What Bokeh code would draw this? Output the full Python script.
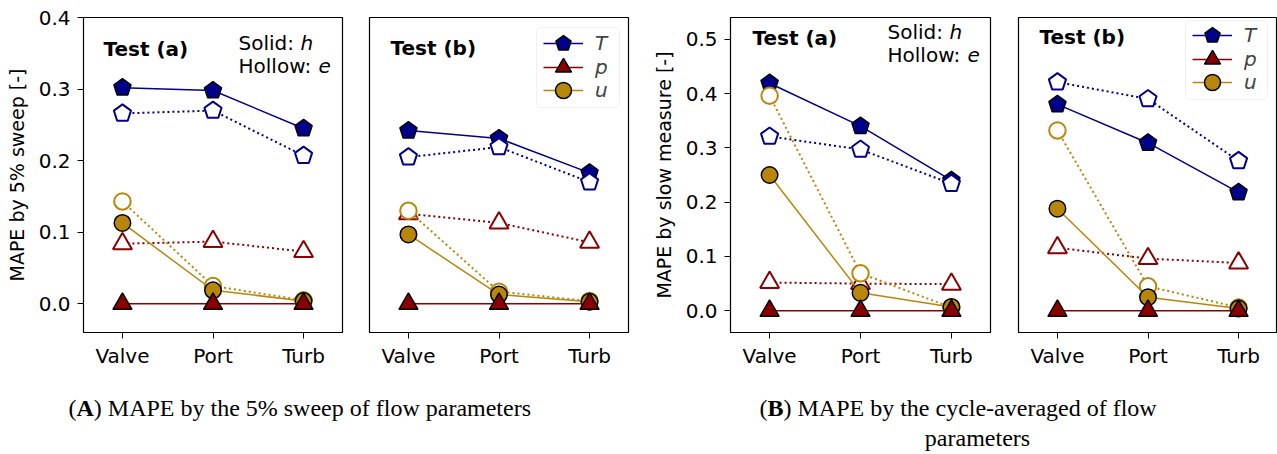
from bokeh.plotting import figure
from bokeh.models import (Range1d, FixedTicker, Label, Legend, LegendItem,
                          PrintfTickFormatter, BoxAnnotation)
from bokeh.layouts import row, column
from bokeh.embed import file_html
from bokeh.resources import INLINE
from bokeh.core.properties import value

categories = ["Valve", "Port", "Turb"]
variables = ["T", "p", "u"]

# (A) MAPE by 5% sweep -- Test (a)
A_a_T_h = [0.302, 0.298, 0.245]
A_a_T_e = [0.266, 0.270, 0.207]
A_a_p_h = [0.0, 0.0, 0.0]
A_a_p_e = [0.084, 0.087, 0.073]
A_a_u_h = [0.113, 0.019, 0.004]
A_a_u_e = [0.143, 0.025, 0.005]
# (A) Test (b)
A_b_T_h = [0.242, 0.231, 0.183]
A_b_T_e = [0.205, 0.219, 0.170]
A_b_p_h = [0.0, 0.0, 0.0]
A_b_p_e = [0.126, 0.113, 0.086]
A_b_u_h = [0.097, 0.013, 0.003]
A_b_u_e = [0.130, 0.017, 0.004]
# (B) MAPE by slow measure -- Test (a)
B_a_T_h = [0.419, 0.340, 0.240]
B_a_T_e = [0.321, 0.297, 0.234]
B_a_p_h = [0.0, 0.0, 0.0]
B_a_p_e = [0.052, 0.050, 0.049]
B_a_u_h = [0.250, 0.033, 0.007]
B_a_u_e = [0.396, 0.069, 0.006]
# (B) Test (b)
B_b_T_h = [0.380, 0.309, 0.218]
B_b_T_e = [0.421, 0.390, 0.276]
B_b_p_h = [0.0, 0.0, 0.0]
B_b_p_e = [0.116, 0.096, 0.088]
B_b_u_h = [0.188, 0.025, 0.004]
B_b_u_e = [0.332, 0.045, 0.006]

A_yticks = [0.0, 0.1, 0.2, 0.3, 0.4]
B_yticks = [0.0, 0.1, 0.2, 0.3, 0.4, 0.5]

COL = {"T": "#00008B", "p": "#8B0000", "u": "#B8860B"}
FONT = "DejaVu Sans"
SERIF = "Liberation Serif"
xs = list(range(len(categories)))
DRAW_ORDER = [("T", "h"), ("T", "e"), ("p", "e"), ("u", "e"), ("u", "h"), ("p", "h")]


def draw_marker(p, var, y, solid):
    fill = COL[var] if solid else "white"
    lc = "black" if solid else COL[var]
    lw = 1.5 if solid else 2.0
    if var == "T":
        return p.ngon(x=xs, y=y, radius=9, radius_units="screen", n=5, angle=0,
                      fill_color=fill, line_color=lc, line_width=lw)
    if var == "p":
        return p.scatter(x=xs, y=y, marker="triangle", size=19,
                         fill_color=fill, line_color=lc, line_width=lw)
    return p.scatter(x=xs, y=y, marker="circle", size=16.5,
                     fill_color=fill, line_color=lc, line_width=lw)


def make_panel(width, bl, br, bt, y_end, yticks, ylabel, data, show_y):
    p = figure(width=width, height=380, output_backend="svg", toolbar_location=None,
               title=None, x_range=Range1d(-0.43, 2.43), y_range=Range1d(-0.04, y_end),
               min_border_left=bl, min_border_right=br, min_border_top=bt,
               min_border_bottom=48)
    p.grid.visible = False
    p.outline_line_color = "black"
    p.outline_line_width = 1.2
    p.background_fill_color = "white"
    p.border_fill_color = "white"

    xa = p.xaxis[0]
    xa.ticker = FixedTicker(ticks=xs)
    xa.major_label_overrides = {i: c for i, c in enumerate(categories)}
    xa.major_label_text_font = FONT
    xa.major_label_text_font_size = "20px"
    xa.major_label_text_color = "black"
    xa.major_tick_in = 0
    xa.major_tick_out = 6
    xa.minor_tick_line_color = None
    xa.axis_line_color = "black"
    xa.major_label_standoff = 5

    ya = p.yaxis[0]
    if show_y:
        ya.ticker = FixedTicker(ticks=yticks)
        ya.formatter = PrintfTickFormatter(format="%.1f")
        ya.major_label_text_font = FONT
        ya.major_label_text_font_size = "20px"
        ya.major_label_text_color = "black"
        ya.major_tick_in = 0
        ya.major_tick_out = 6
        ya.minor_tick_line_color = None
        ya.axis_line_color = "black"
        ya.major_label_standoff = 7
        ya.axis_label = ylabel
        ya.axis_label_text_font = FONT
        ya.axis_label_text_font_size = "19px"
        ya.axis_label_text_font_style = "normal"
        ya.axis_label_text_color = "black"
        ya.axis_label_standoff = 8
    else:
        ya.visible = False

    handles = {}
    for var, kind in DRAW_ORDER:
        h, e = data[var]
        if kind == "h":
            ln = p.line(xs, h, line_color=COL[var], line_width=1.5)
            mk = draw_marker(p, var, h, True)
            handles[var] = (ln, mk)
        else:
            p.line(xs, e, line_color=COL[var], line_width=2, line_dash="2 3")
            draw_marker(p, var, e, False)
    return p, handles


def add_text(p, x, y, text, style="normal"):
    p.add_layout(Label(x=x, y=y, x_units="screen", y_units="screen", text=text,
                       text_font=FONT, text_font_size="20px", text_font_style=style,
                       text_color="black", text_baseline="alphabetic", text_align="left"))


def add_legend(p, handles, box, gx, row_bottoms):
    left, right, top, bottom = box
    p.add_layout(BoxAnnotation(left=left, right=right, top=top, bottom=bottom,
                               left_units="screen", right_units="screen",
                               top_units="screen", bottom_units="screen",
                               fill_color="white", fill_alpha=0.8,
                               line_color="#cccccc", line_width=1, border_radius=4))
    for v, yb in zip(variables, row_bottoms):
        lg = Legend(items=[LegendItem(label=v, renderers=list(handles[v]))],
                    location=(gx, yb), margin=0, padding=0, spacing=0,
                    glyph_width=40, glyph_height=42, label_standoff=12,
                    label_text_font=FONT, label_text_font_style="italic",
                    label_text_font_size="20px", border_line_color=None,
                    background_fill_alpha=0.0)
        p.add_layout(lg)


f1, _ = make_panel(355, 83, 13, 17, 0.4, A_yticks, "MAPE by 5% sweep [-]",
                   {"T": (A_a_T_h, A_a_T_e), "p": (A_a_p_h, A_a_p_e), "u": (A_a_u_h, A_a_u_e)}, True)
f2, h2 = make_panel(285, 14, 12, 17, 0.4, A_yticks, "",
                    {"T": (A_b_T_h, A_b_T_e), "p": (A_b_p_h, A_b_p_e), "u": (A_b_u_h, A_b_u_e)}, False)
f3, _ = make_panel(363, 90, 13, 10, 0.54, B_yticks, "MAPE by slow measure [-]",
                   {"T": (B_a_T_h, B_a_T_e), "p": (B_a_p_h, B_a_p_e), "u": (B_a_u_h, B_a_u_e)}, True)
f4, h4 = make_panel(274, 15, 0, 10, 0.54, B_yticks, "",
                    {"T": (B_b_T_h, B_b_T_e), "p": (B_b_p_h, B_b_p_e), "u": (B_b_u_h, B_b_u_e)}, False)

add_text(f1, 20, 284, "Test (a)", "bold")
add_text(f1, 155, 290, "Solid: ")
add_text(f1, 155 + 62, 290, "h", "italic")
add_text(f1, 155, 267, "Hollow: ")
add_text(f1, 155 + 80, 267, "e", "italic")
add_text(f2, 21, 285, "Test (b)", "bold")
add_text(f3, 22, 295, "Test (a)", "bold")
add_text(f3, 157, 301, "Solid: ")
add_text(f3, 157 + 62, 301, "h", "italic")
add_text(f3, 157, 278, "Hollow: ")
add_text(f3, 157 + 80, 278, "e", "italic")
add_text(f4, 21, 296, "Test (b)", "bold")
add_legend(f2, h2, (167, 250, 305, 225), 174, (268, 244.5, 221))
add_legend(f4, h4, (167, 249, 312, 233), 174, (276, 252.5, 229))

cap = figure(width=1277, height=74, output_backend="svg", toolbar_location=None, title=None,
             x_range=Range1d(0, 1277), y_range=Range1d(454, 380), min_border=0)
cap.axis.visible = False
cap.grid.visible = False
cap.outline_line_color = None
sf = value(SERIF)
y1, y2 = 407, 437
cap.text(x=[76], y=[y1], text=["("], text_font=sf, text_font_size="24px",
         text_align="right", text_baseline="alphabetic", text_color="black")
cap.text(x=[76], y=[y1], text=["A"], text_font=sf, text_font_size="24px",
         text_font_style="bold", text_align="left", text_baseline="alphabetic", text_color="black")
cap.text(x=[93.3], y=[y1], text=[") MAPE by the 5% sweep of flow parameters"], text_font=sf,
         text_font_size="24px", text_align="left", text_baseline="alphabetic", text_color="black")
cap.text(x=[767], y=[y1], text=["("], text_font=sf, text_font_size="24px",
         text_align="right", text_baseline="alphabetic", text_color="black")
cap.text(x=[767], y=[y1], text=["B"], text_font=sf, text_font_size="24px",
         text_font_style="bold", text_align="left", text_baseline="alphabetic", text_color="black")
cap.text(x=[783], y=[y1], text=[") MAPE by the cycle-averaged of flow"], text_font=sf,
         text_font_size="24px", text_align="left", text_baseline="alphabetic", text_color="black")
cap.text(x=[977], y=[y2], text=["parameters"], text_font=sf, text_font_size="24px",
         text_align="center", text_baseline="alphabetic", text_color="black")

layout = column(row(f1, f2, f3, f4), cap)
open("out.html", "w").write(file_html(layout, INLINE))
